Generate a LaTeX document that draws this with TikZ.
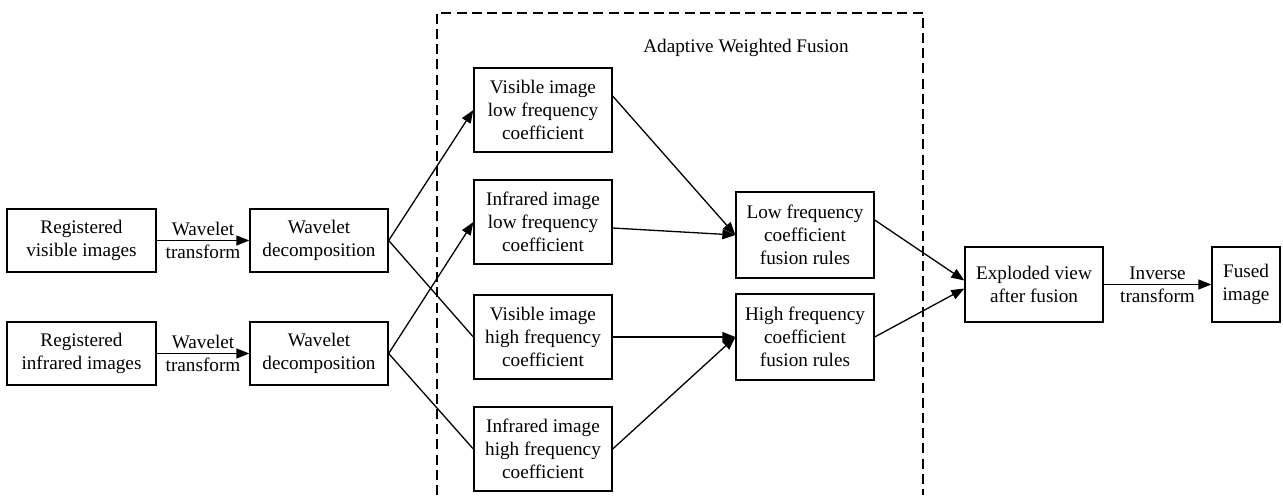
\documentclass[tikz,border=0pt]{standalone}
\usepackage{fontspec}
\setmainfont{Liberation Serif}
\usetikzlibrary{arrows.meta}
\begin{document}
\begin{tikzpicture}[x=0.5pt,y=-0.5pt,
  every node/.style={font=\fontsize{9.6}{11.5}\selectfont},
  box/.style={draw, line width=0.65pt, align=center, inner sep=0pt},
  regbox/.style={box, minimum width=74.5pt, minimum height=31.5pt},
  wavbox/.style={box, minimum width=69pt, minimum height=31.5pt},
  coefbox/.style={box, minimum width=69pt, minimum height=42pt},
  rulebox/.style={box, minimum width=69pt, minimum height=43pt},
  viewbox/.style={box, minimum width=69pt, minimum height=37.5pt},
  fusedbox/.style={box, minimum width=34pt, minimum height=37.5pt},
  arr/.style={line width=0.65pt, -{Triangle[length=6.5pt,width=5pt]}},
  ln/.style={line width=0.65pt},
  frame/.style={line width=1pt, dash pattern=on 5pt off 2.6pt},
  lbl/.style={align=center, inner sep=0pt}
]
\useasboundingbox (0,0) rectangle (1283,495);

% dashed frame
\draw[frame] (437,495) -- (437,13) -- (923,13) -- (923,495);
\node[lbl] (title) at (746,48) {Adaptive Weighted Fusion};

% nodes
\node[regbox] (rv) at (81.5,240.5) {Registered\\visible images};
\node[regbox] (ri) at (81.5,353.5) {Registered\\infrared images};
\node[wavbox] (wd1) at (319,240.5) {Wavelet\\decomposition};
\node[wavbox] (wd2) at (319,353.5) {Wavelet\\decomposition};

\node[coefbox] (vl) at (543,110) {Visible image\\low frequency\\coefficient};
\node[coefbox] (il) at (543,222) {Infrared image\\low frequency\\coefficient};
\node[coefbox] (vh) at (543,337) {Visible image\\high frequency\\coefficient};
\node[coefbox] (ih) at (543,449) {Infrared image\\high frequency\\coefficient};

\node[rulebox] (lf) at (805,235) {Low frequency\\coefficient\\fusion rules};
\node[rulebox] (hf) at (805,337) {High frequency\\coefficient\\fusion rules};

\node[viewbox] (ex) at (1034,284.5) {Exploded view\\after fusion};
\node[fusedbox] (fu) at (1246,284.5) {Fused\\image};

% connectors
\draw[arr] (rv.east) -- node[lbl, midway] {Wavelet\\transform} (wd1.west);
\draw[arr] (ri.east) -- node[lbl, midway] {Wavelet\\transform} (wd2.west);

\draw[arr] (wd1.east) -- (vl.west);
\draw[ln] (wd1.east) -- (vh.west);
\draw[arr] (wd2.east) -- (il.west);
\draw[ln] (wd2.east) -- (ih.west);

\draw[arr] ([yshift=7pt]vl.east) -- (lf.west);
\draw[arr] ([yshift=-3pt]il.east) -- (lf.west);
\draw[arr] (vh.east) -- (hf.west);
\draw[arr] (ih.east) -- (hf.west);

\draw[arr] ([yshift=7.5pt]lf.east) -- ([yshift=2pt]ex.west);
\draw[arr] (hf.east) -- ([yshift=-2pt]ex.west);

\draw[arr] (ex.east) -- node[lbl, midway] {Inverse\\transform} (fu.west);
\end{tikzpicture}
\end{document}
